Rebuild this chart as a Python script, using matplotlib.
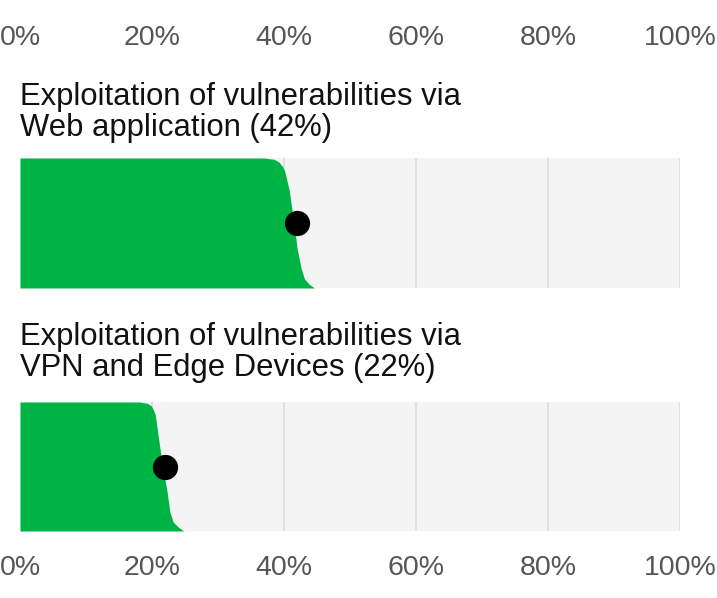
import matplotlib
matplotlib.use("Agg")
import matplotlib.pyplot as plt
import numpy as np

plt.rcParams["font.family"] = ["Liberation Sans", "DejaVu Sans"]

W, H = 717, 598

# ---------------------------------------------------------------------------
# Data
# ---------------------------------------------------------------------------
titles = [
    "Exploitation of vulnerabilities via\nWeb application (42%)",
    "Exploitation of vulnerabilities via\nVPN and Edge Devices (22%)",
]
estimates = [42, 22]

# green edge: position down the bar (0 = top, 1 = bottom) and share (%)
edge_pos = [0.0, 0.01, 0.03, 0.06, 0.1, 0.25, 0.5, 0.7, 0.85, 0.93, 0.97, 1.0]
edge_web = [37.0, 38.5, 39.2, 39.7, 40.1, 40.8, 41.5, 42.0, 42.6, 43.1, 43.8, 44.6]
edge_vpn = [18.1, 19.3, 19.9, 20.2, 20.5, 20.9, 21.6, 22.3, 22.7, 23.2, 24.0, 24.8]
edges = [edge_web, edge_vpn]

ticks = [0, 20, 40, 60, 80, 100]
tick_labels = ["0%", "20%", "40%", "60%", "80%", "100%"]

GREEN = "#00b345"
BG = "#f4f4f4"
GRID = "#dcdcdc"
TICK_COLOR = "#555555"


def px_rect(left, top, right, bottom):
    return [left / W, 1 - bottom / H, (right - left) / W, (bottom - top) / H]


fig = plt.figure(figsize=(W / 100, H / 100), dpi=100)

rects = [px_rect(20, 158, 680, 288), px_rect(20, 402, 680, 531)]
title_y = [136, 376]  # baseline of last title line, px from top

axes = []
for i, rect in enumerate(rects):
    ax = fig.add_axes(rect)
    ax.set_facecolor(BG)
    ax.set_xlim(0, 100)
    ax.set_ylim(1, 0)
    for s in ax.spines.values():
        s.set_visible(False)
    for t in ticks[1:]:
        ax.axvline(t, color=GRID, lw=1.2, zorder=1)
    ax.fill_betweenx(edge_pos, 0, edges[i], color=GREEN, lw=0, zorder=2)
    ax.scatter([estimates[i]], [0.5], s=330, color="black", zorder=3, lw=0)
    ax.set_yticks([])
    ax.set_xticks(ticks)
    ax.set_xticklabels(tick_labels)
    ax.tick_params(axis="x", length=0, labelsize=20.5, labelcolor=TICK_COLOR)

    fig.text(20 / W, 1 - title_y[i] / H, titles[i], ha="left", va="baseline",
             fontsize=22.3, color="#111111", linespacing=1.06)
    axes.append(ax)

# top axis labels on the first panel, bottom labels on the second
axes[0].xaxis.tick_top()
axes[0].tick_params(axis="x", pad=77)
axes[1].tick_params(axis="x", pad=17)

fig.savefig("out.png", dpi=100)
